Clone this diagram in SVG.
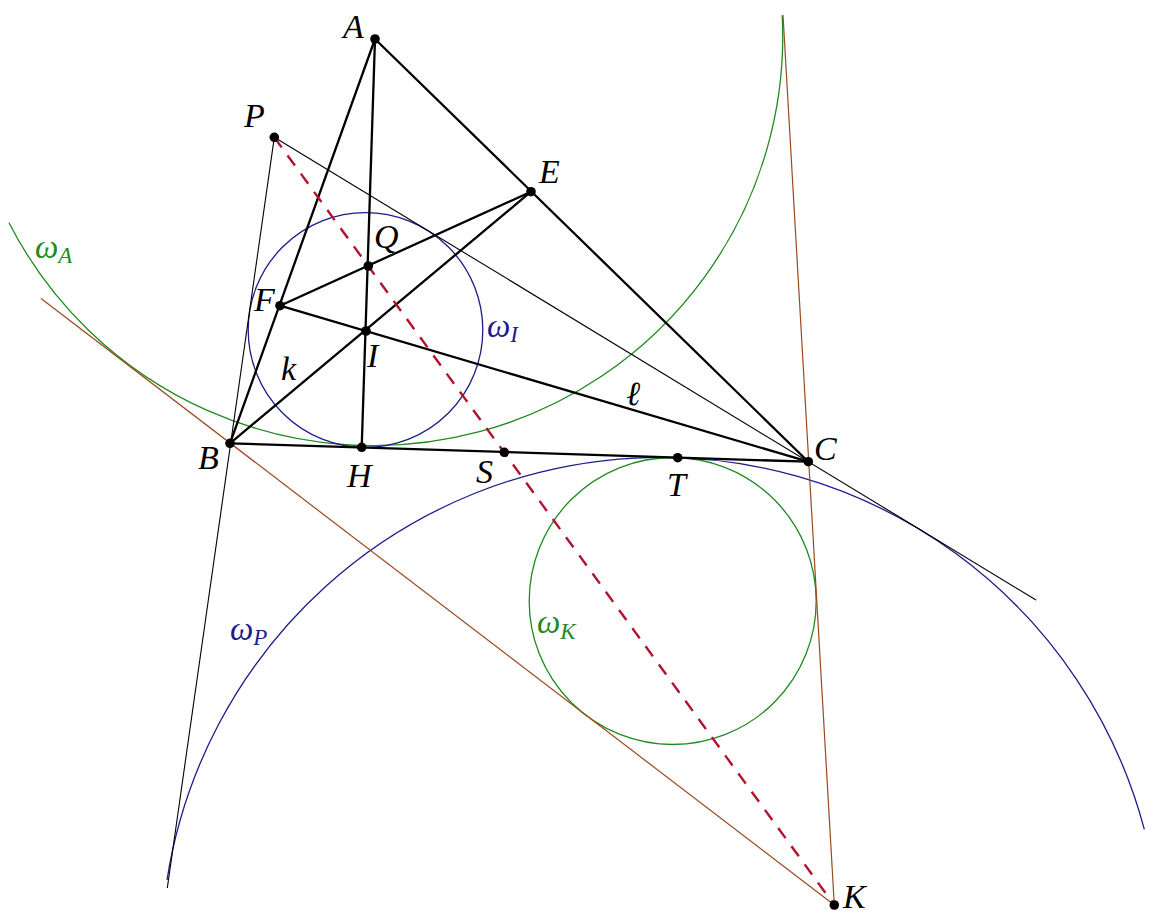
<svg xmlns="http://www.w3.org/2000/svg" width="1161" height="924" viewBox="0 0 1161 924">
<style>
.thick{stroke:#000;stroke-width:2.3;fill:none;stroke-linecap:round}
.thin{stroke:#000;stroke-width:1.1;fill:none}
.brown{stroke:#9b4a1e;stroke-width:1.2;fill:none}
.blue{stroke:#1c1c8a;stroke-width:1.3;fill:none}
.green{stroke:#1f8a1f;stroke-width:1.3;fill:none}
.dash{stroke:#b3112e;stroke-width:2.4;fill:none;stroke-dasharray:12.5 10}
.pt{fill:#000}
text{font-family:"Liberation Serif","DejaVu Serif",serif;font-style:italic;font-size:34px;fill:#000}
.om{font-size:33px}
.sub{font-size:23px}
.lg{fill:#1f8a1f}
.lb{fill:#1c1c8a}
</style>
<g id="circles">
<path id="omegaA" class="green" d="M 9 222.7 A 409.3 409.3 0 0 0 782.2 15.3"/>
<circle id="omegaI" class="blue" cx="365.5" cy="330" r="117.3"/>
<circle id="omegaK" class="green" cx="672.7" cy="601" r="143.5"/>
<path id="omegaP" class="blue" d="M 167 880 A 500 500 0 0 1 1144.3 829.3"/>
</g>
<g id="connectors">
<line class="brown" x1="41" y1="298.5" x2="834.3" y2="905"/>
<line class="brown" x1="783" y1="15" x2="834.3" y2="905"/>
<line class="thin" x1="274.3" y1="137.3" x2="167.3" y2="888"/>
<line class="thin" x1="274.3" y1="137.3" x2="1036" y2="600"/>
<line class="thick" x1="375" y1="39" x2="230" y2="443.3"/>
<line class="thick" x1="375" y1="39" x2="808.3" y2="461.7"/>
<line class="thick" x1="230" y1="443.3" x2="808.3" y2="461.7"/>
<line class="thick" x1="375" y1="39" x2="361.7" y2="447.3"/>
<line class="thick" x1="230" y1="443.3" x2="531" y2="191.7"/>
<line class="thick" x1="280" y1="305.7" x2="531" y2="191.7"/>
<line class="thick" x1="280" y1="305.7" x2="808.3" y2="461.7"/>
<line class="dash" x1="274.3" y1="137.3" x2="834.3" y2="905"/>
</g>
<g id="points">
<g id="nA"><circle class="pt" cx="375" cy="39" r="4.8"/><text x="343" y="38">A</text></g>
<g id="nP"><circle class="pt" cx="274.3" cy="137.3" r="4.8"/><text x="244" y="127">P</text></g>
<g id="nE"><circle class="pt" cx="531" cy="191.7" r="4.8"/><text x="539" y="183">E</text></g>
<g id="nQ"><circle class="pt" cx="368.3" cy="266" r="4.8"/><text x="374" y="248">Q</text></g>
<g id="nF"><circle class="pt" cx="280" cy="305.7" r="4.8"/><text x="254" y="311">F</text></g>
<g id="nI"><circle class="pt" cx="366" cy="331" r="4.8"/><text x="367" y="367">I</text></g>
<g id="nB"><circle class="pt" cx="230" cy="443.3" r="4.8"/><text x="198" y="469">B</text></g>
<g id="nH"><circle class="pt" cx="361.7" cy="447.3" r="4.8"/><text x="347" y="487">H</text></g>
<g id="nS"><circle class="pt" cx="504.3" cy="452.3" r="4.8"/><text x="476" y="483">S</text></g>
<g id="nT"><circle class="pt" cx="677.7" cy="457.7" r="4.8"/><text x="667" y="496">T</text></g>
<g id="nC"><circle class="pt" cx="808.3" cy="461.7" r="4.8"/><text x="814" y="460">C</text></g>
<g id="nK"><circle class="pt" cx="834.3" cy="905" r="4.8"/><text x="843" y="908">K</text></g>
</g>
<g id="labels">
<text x="281" y="380">k</text>
<text x="626" y="405">ℓ</text>
<text class="om lg" x="35" y="258">ω<tspan class="sub" dy="5">A</tspan></text>
<text class="om lb" x="487" y="337">ω<tspan class="sub" dy="5">I</tspan></text>
<text class="om lg" x="537" y="633">ω<tspan class="sub" dy="6">K</tspan></text>
<text class="om lb" x="230" y="640">ω<tspan class="sub" dy="5">P</tspan></text>
</g>
</svg>
